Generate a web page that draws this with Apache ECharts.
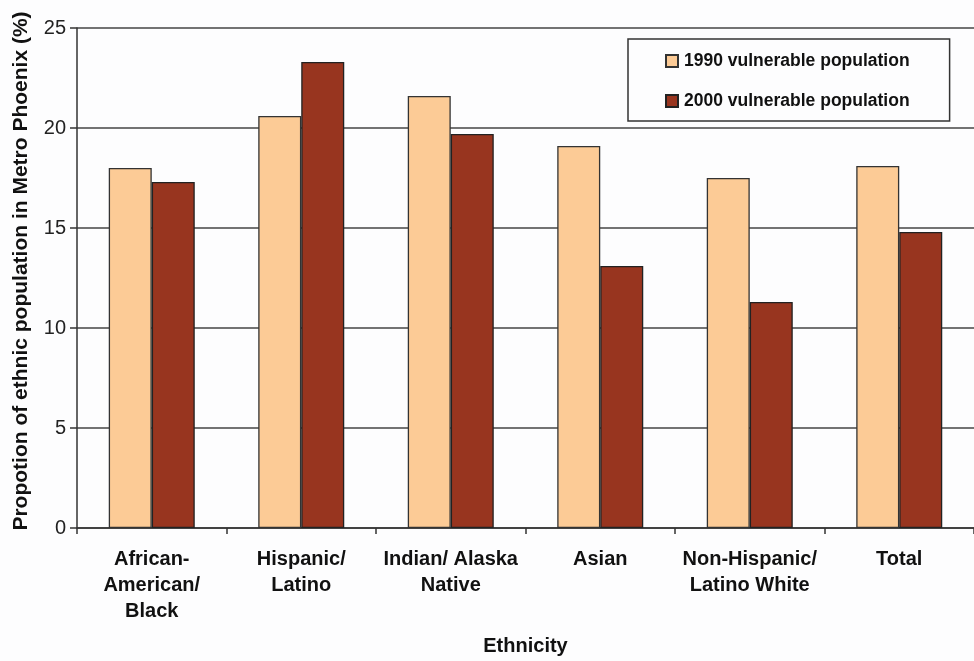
<!DOCTYPE html>
<html>
<head>
<meta charset="utf-8">
<script src="https://cdn.jsdelivr.net/npm/echarts@6/dist/echarts.min.js"></script>
<style>
html,body{margin:0;padding:0;background:#fdfdfe;overflow:hidden;}
#c{width:974px;height:661px;}
</style>
</head>
<body>
<div id="c"></div>
<script>
const categories = ["African-\nAmerican/\nBlack", "Hispanic/\nLatino", "Indian/ Alaska\nNative", "Asian", "Non-Hispanic/\nLatino White", "Total"];
const seriesNames = ["1990 vulnerable population", "2000 vulnerable population"];
const values1990 = [18.0, 20.6, 21.6, 19.1, 17.5, 18.1];
const values2000 = [17.3, 23.3, 19.7, 13.1, 11.3, 14.8];
const yTicks = [0, 5, 10, 15, 20, 25];

const font = "Liberation Sans, Arial, sans-serif";
const chart = echarts.init(document.getElementById('c'), null, {renderer: 'canvas', width: 974, height: 661});
chart.setOption({
  backgroundColor: '#fdfdfe',
  animation: false,
  textStyle: {fontFamily: font},
  grid: {left: 77, top: 28, bottom: 130, width: 900, containLabel: false},
  legend: {
    orient: 'vertical',
    left: 628, top: 39,
    padding: [13, 40, 11, 37],
    itemGap: 22,
    itemWidth: 12, itemHeight: 12,
    icon: 'rect',
    borderColor: '#333', borderWidth: 1.5,
    backgroundColor: '#fdfdfe',
    textStyle: {fontFamily: font, fontSize: 17.5, fontWeight: 'bold', color: '#111', padding: [0,0,0,1]},
    data: seriesNames
  },
  xAxis: {
    type: 'category',
    data: categories,
    name: 'Ethnicity',
    nameLocation: 'middle',
    nameGap: 108,
    nameTextStyle: {fontFamily: font, fontSize: 20, fontWeight: 'bold', color: '#111'},
    axisLine: {lineStyle: {color: '#333', width: 1.5}},
    axisTick: {show: true, length: 6, lineStyle: {color: '#333', width: 1.5}},
    axisLabel: {fontFamily: font, fontSize: 20, fontWeight: 'bold', color: '#111', margin: 18, lineHeight: 26, interval: 0}
  },
  yAxis: {
    type: 'value',
    min: yTicks[0], max: yTicks[yTicks.length-1], interval: 5,
    name: 'Propotion of ethnic population in Metro Phoenix (%)',
    nameLocation: 'middle',
    nameGap: 45,
    nameTextStyle: {fontFamily: font, fontSize: 21, fontWeight: 'bold', color: '#111', padding: [0, 0, 0, 14]},
    axisLine: {show: true, lineStyle: {color: '#333', width: 1.5}},
    axisTick: {show: true, length: 7, lineStyle: {color: '#333', width: 1.5}},
    axisLabel: {fontFamily: font, fontSize: 20, color: '#222', margin: 11},
    splitLine: {show: true, lineStyle: {color: '#444', width: 1.5}}
  },
  series: [
    {name: seriesNames[0], type: 'bar', data: values1990, barWidth: 43, barGap: '0%',
     itemStyle: {color: '#fccb96', borderColor: '#333', borderWidth: 1.3}},
    {name: seriesNames[1], type: 'bar', data: values2000, barWidth: 43, barGap: '0%',
     itemStyle: {color: '#98351f', borderColor: '#222', borderWidth: 1.3}}
  ]
});
</script>
</body>
</html>
